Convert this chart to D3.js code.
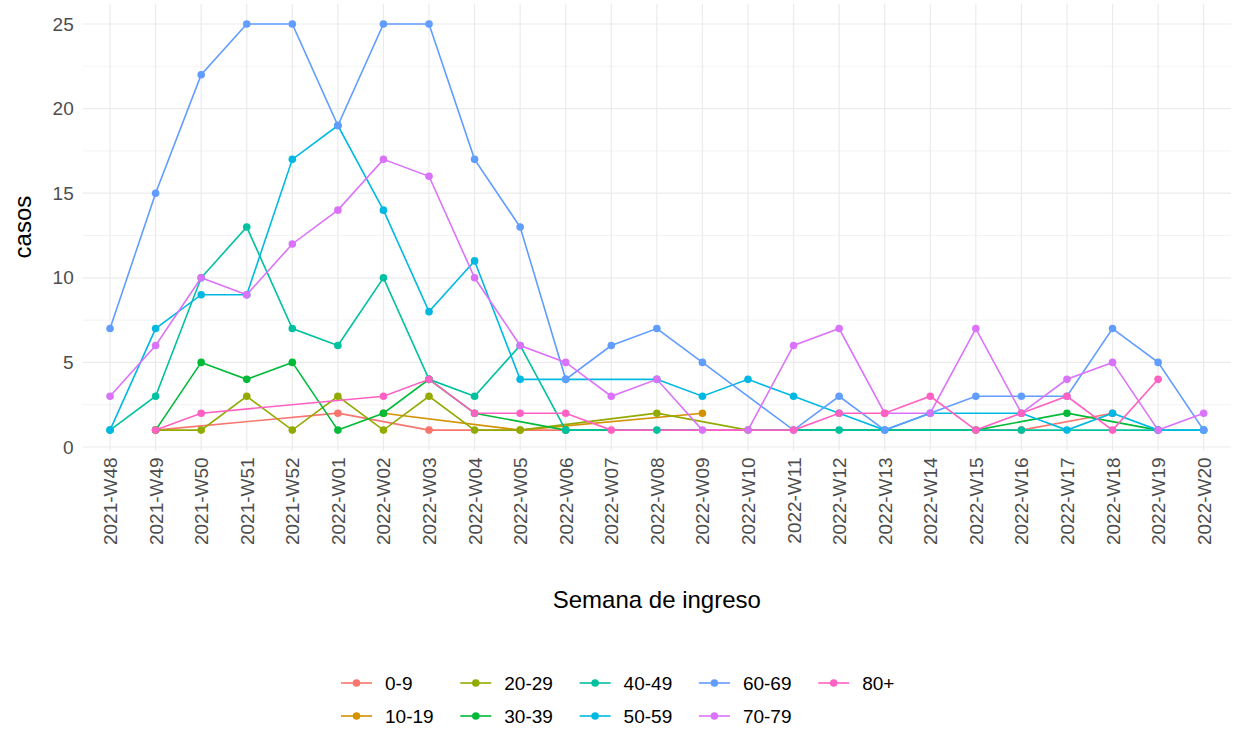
<!DOCTYPE html>
<html>
<head>
<meta charset="utf-8">
<script src="https://cdn.jsdelivr.net/npm/d3@7"></script>
<style>
  html, body { margin: 0; padding: 0; background: #ffffff; }
  svg { display: block; font-family: "Liberation Sans", Arial, sans-serif; }
</style>
</head>
<body>
<svg id="chart" width="1238" height="743"></svg>
<script>
// Weekly admissions by age group
const weeks = [
  "2021-W48","2021-W49","2021-W50","2021-W51","2021-W52",
  "2022-W01","2022-W02","2022-W03","2022-W04","2022-W05",
  "2022-W06","2022-W07","2022-W08","2022-W09","2022-W10",
  "2022-W11","2022-W12","2022-W13","2022-W14","2022-W15",
  "2022-W16","2022-W17","2022-W18","2022-W19","2022-W20"
];
const groups = ["0-9","10-19","20-29","30-39","40-49","50-59","60-69","70-79","80+"];
const groupColors = ["#F8766D","#D39200","#93AA00","#00BA38","#00C19F","#00B9E3","#619CFF","#DB72FB","#FF61C3"];
const yTicks = [0, 5, 10, 15, 20, 25];

const n = null;
// cases per week (null = no admissions that week)
const cases0to9   = [n,1,n,n,n, 2,n,1,n,n, 1,n,n,n,n, n,n,n,n,n, 1,n,2,n,n];
const cases10to19 = [n,n,n,n,n, n,2,n,n,1, n,n,n,2,n, n,n,n,n,n, n,n,n,n,n];
const cases20to29 = [n,1,1,3,1, 3,1,3,1,1, n,n,2,n,1, n,n,n,n,n, n,n,n,n,n];
const cases30to39 = [n,1,5,4,5, 1,2,4,2,n, 1,n,n,n,n, n,n,n,n,1, n,2,n,1,n];
const cases40to49 = [1,3,10,13,7, 6,10,4,3,6, 1,n,1,n,n, n,1,n,n,n, 1,n,n,n,1];
const cases50to59 = [1,7,9,9,17, 19,14,8,11,4, 4,n,4,3,4, 3,2,1,2,n, 2,1,2,1,1];
const cases60to69 = [7,15,22,25,25, 19,25,25,17,13, 4,6,7,5,n, 1,3,1,n,3, 3,3,7,5,1];
const cases70to79 = [3,6,10,9,12, 14,17,16,10,6, 5,3,4,1,1, 6,7,2,2,7, 2,4,5,1,2];
const cases80plus = [n,1,2,n,n, n,3,4,2,2, 2,1,n,n,n, 1,2,2,3,1, 2,3,1,4,n];

const seriesValues = [cases0to9, cases10to19, cases20to29, cases30to39, cases40to49,
                      cases50to59, cases60to69, cases70to79, cases80plus];

const series = groups.map((g, i) => ({
  name: g,
  color: groupColors[i],
  points: weeks.map((w, j) => ({ week: w, value: seriesValues[i][j] }))
                 .filter(d => d.value !== null)
}));

const svg = d3.select("#chart");
const panel = { left: 82.7, right: 1231, top: 3.7, bottom: 450.4 };
const tickFont = 19, titleFont = 24, legendFont = 19;

const x = d3.scalePoint().domain(weeks).range([panel.left, panel.right]).padding(0.6);
const y = d3.scaleLinear().domain([-0.2, 26.2]).range([panel.bottom, panel.top]);

// grid
const grid = svg.append("g");
const minorTicks = d3.range(2.5, 26, 5);
grid.selectAll("line.minor").data(minorTicks).join("line")
  .attr("x1", panel.left).attr("x2", panel.right)
  .attr("y1", d => y(d)).attr("y2", d => y(d))
  .attr("stroke", "#EBEBEB").attr("stroke-width", 0.6);
grid.selectAll("line.hmajor").data(yTicks).join("line")
  .attr("x1", panel.left).attr("x2", panel.right)
  .attr("y1", d => y(d)).attr("y2", d => y(d))
  .attr("stroke", "#EBEBEB").attr("stroke-width", 1.2);
grid.selectAll("line.vmajor").data(weeks).join("line")
  .attr("x1", d => x(d)).attr("x2", d => x(d))
  .attr("y1", panel.top).attr("y2", panel.bottom)
  .attr("stroke", "#EBEBEB").attr("stroke-width", 1.2);

// axes (text only, minimal theme)
const yAxis = d3.axisLeft(y).tickValues(yTicks).tickSize(0).tickPadding(9);
svg.append("g").attr("transform", `translate(${panel.left},0)`).call(yAxis)
  .call(g => g.select(".domain").remove())
  .call(g => g.selectAll("text").attr("fill", "#4D4D4D").attr("font-size", tickFont)
                .attr("font-family", "Liberation Sans, Arial, sans-serif"));

const xAxis = d3.axisBottom(x).tickSize(0).tickPadding(0);
svg.append("g").attr("transform", `translate(0,${panel.bottom})`).call(xAxis)
  .call(g => g.select(".domain").remove())
  .call(g => g.selectAll("text")
    .attr("fill", "#4D4D4D").attr("font-size", tickFont)
    .attr("font-family", "Liberation Sans, Arial, sans-serif")
    .attr("text-anchor", "end")
    .attr("dy", null)
    .attr("y", 0)
    .attr("transform", "translate(0,7) rotate(-90)")
    .attr("dx", 0)
    .attr("dominant-baseline", "central"));

// axis titles
svg.append("text")
  .attr("x", (panel.left + panel.right) / 2).attr("y", 608)
  .attr("text-anchor", "middle").attr("font-size", titleFont).attr("fill", "#000")
  .text("Semana de ingreso");
svg.append("text")
  .attr("transform", `translate(31,${(panel.top + panel.bottom) / 2}) rotate(-90)`)
  .attr("text-anchor", "middle").attr("font-size", titleFont).attr("fill", "#000")
  .text("casos");

// lines
const line = d3.line().x(d => x(d.week)).y(d => y(d.value));
svg.append("g").selectAll("path").data(series).join("path")
  .attr("d", d => line(d.points))
  .attr("fill", "none").attr("stroke", d => d.color).attr("stroke-width", 1.6);

// points
const pts = svg.append("g");
series.forEach(s => {
  pts.append("g").selectAll("circle").data(s.points).join("circle")
    .attr("cx", d => x(d.week)).attr("cy", d => y(d.value)).attr("r", 3.8)
    .attr("fill", s.color);
});

// legend (two rows, filled column by column)
const legendX0 = 341, legendColW = 119.3, legendRowY = [683, 716];
const legend = svg.append("g");
groups.forEach((g, i) => {
  const col = Math.floor(i / 2), row = i % 2;
  const gx = legendX0 + col * legendColW, gy = legendRowY[row];
  const item = legend.append("g").attr("transform", `translate(${gx},${gy})`);
  item.append("line").attr("x1", 0).attr("x2", 31).attr("y1", 0).attr("y2", 0)
    .attr("stroke", groupColors[i]).attr("stroke-width", 1.6);
  item.append("circle").attr("cx", 15.5).attr("cy", 0).attr("r", 3.8).attr("fill", groupColors[i]);
  item.append("text").attr("x", 44).attr("y", 0).attr("dy", "0.35em")
    .attr("font-size", legendFont).attr("fill", "#000").text(g);
});
</script>
</body>
</html>
